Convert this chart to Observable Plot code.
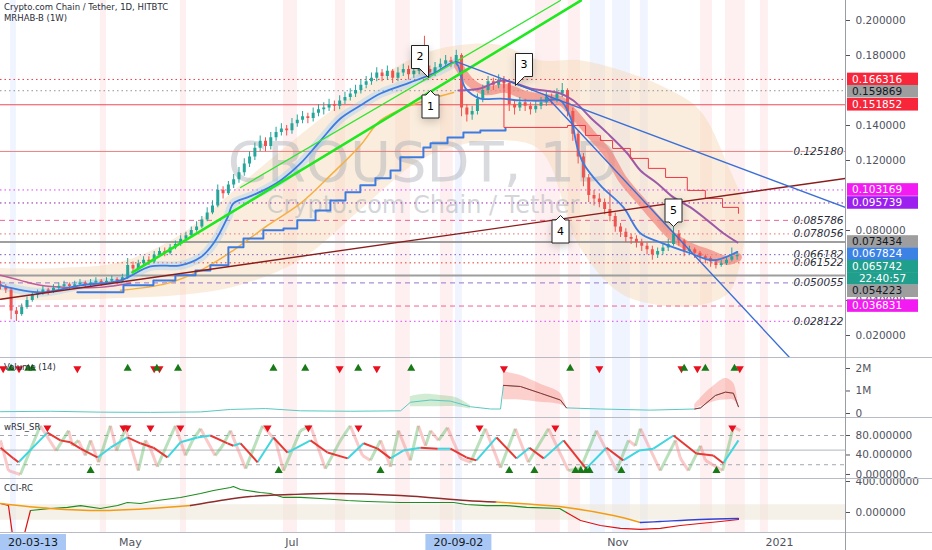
<!DOCTYPE html>
<html><head><meta charset="utf-8">
<script src="https://cdn.jsdelivr.net/npm/d3@7"></script>
<script src="https://cdn.jsdelivr.net/npm/@observablehq/plot@0.6"></script>
<style>
body{margin:0;background:#fff;}
#wrap{position:relative;width:932px;height:550px;overflow:hidden;background:#fff;font-family:"DejaVu Sans","Liberation Sans",sans-serif}
#wrap svg{position:absolute;left:0;overflow:visible}
.ttl{position:absolute;left:4px;font-size:8.5px;color:#2a2e39;white-space:nowrap}
.sep{position:absolute;left:0;width:932px;height:0;border-top:1.5px solid #b8bbc4}
</style></head><body><div id="wrap"></div>
<script>
// ---------------- DATA ----------------
const startDate = "2020-03-13";
const barStepDays = 2;
const firstOpen = 0.049;
const closes = [.048,.046,.034,.032,.036,.040,.043,.044,.046,.045, .047,.048,.049,.048,.049,.050,.049,.050,.051,.050, .051,.052,.051,.053,.060,.058,.061,.063,.062,.066, .068,.067,.070,.072,.075,.077,.080,.082,.086,.090, .094,.103,.101,.106,.109,.113,.118,.122,.127,.131, .128,.133,.136,.138,.137,.141,.143,.145,.144,.147, .149,.150,.152,.151,.154,.156,.158,.160,.163,.165, .167,.170,.168,.171,.167,.170,.172,.169,.171,.173, .172,.170,.173,.175,.177,.176,.180,.150,.146,.148, .155,.160,.165,.163,.166,.164,.152,.150,.153,.151, .149,.151,.153,.156,.155,.158,.160,.148,.135,.122, .110,.100,.098,.096,.092,.088,.082,.079,.076,.075, .073,.071,.069,.066,.068,.070,.072,.078,.074,.068, .069,.067,.065,.064,.062,.060,.061,.063,.065,.0657];
const highs = [.051,.049,.047,.036,.038,.042,.045,.046,.048,.047, .049,.050,.051,.050,.051,.052,.051,.052,.053,.052, .053,.054,.053,.055,.064,.062,.063,.065,.065,.068, .070,.070,.072,.074,.077,.079,.082,.085,.088,.093, .097,.106,.105,.108,.112,.116,.121,.125,.130,.134, .133,.136,.139,.141,.140,.144,.146,.148,.147,.150, .152,.153,.155,.154,.157,.159,.161,.163,.166,.168, .170,.173,.172,.174,.172,.173,.175,.174,.174,.176, .191,.174,.176,.178,.180,.179,.183,.181,.152,.151, .158,.163,.168,.167,.169,.168,.165,.154,.156,.155, .153,.154,.156,.159,.158,.161,.164,.161,.150,.137, .124,.112,.103,.101,.098,.103,.090,.084,.081,.078, .077,.075,.073,.071,.070,.072,.075,.082,.080,.075, .071,.070,.068,.066,.065,.063,.063,.065,.070,.068];
const lows = [.046,.044,.029,.028,.031,.035,.039,.041,.043,.043, .044,.046,.047,.046,.047,.048,.047,.048,.049,.048, .049,.050,.049,.050,.052,.056,.057,.060,.060,.061, .065,.065,.066,.069,.071,.074,.076,.079,.081,.085, .089,.093,.098,.100,.104,.107,.111,.116,.120,.125, .125,.126,.131,.134,.134,.135,.139,.141,.141,.142, .145,.146,.148,.148,.149,.152,.154,.156,.158,.161, .163,.165,.165,.166,.164,.165,.168,.166,.167,.169, .169,.167,.168,.171,.173,.173,.174,.145,.142,.143, .146,.153,.158,.160,.161,.161,.148,.146,.148,.148, .146,.147,.149,.151,.152,.153,.156,.145,.131,.118, .105,.096,.094,.093,.089,.085,.079,.076,.073,.072, .070,.068,.066,.063,.064,.066,.068,.071,.071,.065, .066,.064,.062,.061,.059,.058,.059,.060,.062,.063];

// indicator lines: [day since start, price]
const emaFast = [[0,.0487],[15.1,.0447],[30.2,.0487],[45.3,.0515],[56.6,.0595],[67.9,.0601],[75.5,.0647],[80.4,.0727],[85.7,.0875],[87.9,.0955],[93.2,.0989],[99.2,.1029],[105.7,.1086],[113.2,.1183],[120.8,.1314],[128.3,.144],[135.8,.1514],[143.4,.1583],[154.7,.1646],[164.2,.1703],[171.7,.176],[175.5,.1612],[181.1,.1554],[188.7,.1554],[196.2,.1543],[205.7,.1543],[211.3,.1543],[215.1,.1446],[217.7,.1275],[220,.1183],[226.4,.1058],[235.1,.0932],[241.5,.0784],[249,.0732],[260.4,.067],[269,.063],[278.1,.0678]];
const emaMid = [[172.8,.1743],[177.4,.1646],[183,.16],[190.6,.1612],[198.1,.1572],[205.7,.1554],[211.3,.1543],[216.2,.1469],[222.6,.1355],[229.1,.124],[235.1,.1086],[241.5,.0972],[247.9,.0858],[254,.0761],[260.4,.0704],[266.8,.0669],[274.3,.0629],[278.1,.0647]];
const maSlowEarly = [[0,.0544],[7.5,.0515],[15.1,.0487],[25.3,.0475],[37.7,.0475],[49.1,.0498]];
const maSlowLate = [[172.8,.1600],[181.1,.1612],[189.8,.1657],[200,.1612],[211.3,.1583],[216.2,.1543],[222.6,.1446],[229.1,.1355],[236.6,.124],[241.5,.1143],[247.9,.1069],[254,.0989],[260.4,.0932],[266.8,.0858],[272.8,.0784],[278.1,.0732]];
const maLong = [[45.3,.0458],[63,.0498],[75.5,.0572],[87.9,.0687],[100.8,.0829],[113.2,.0955],[124.5,.1115],[135.8,.1286],[143.4,.1429],[154.7,.1514],[171,.1589]];
const stepUp = [[29,.0447],[46.4,.0487],[57.7,.0515],[66,.0544],[73.6,.0572],[79.2,.0601],[86,.0704],[91.7,.0755],[99.2,.0801],[106.8,.0812],[112,.0858],[118.9,.0915],[124.5,.0972],[130.2,.1018],[135.8,.1058],[141.5,.1098],[147.2,.1143],[150.9,.1218],[159.6,.1275],[162.3,.1298],[168.7,.1332],[174.7,.136],[181.1,.1372],[190.6,.1383]];
const stepDown = [[189.8,.1669],[190,.1389],[214,.140],[220.8,.1343],[226.4,.1314],[231,.1269],[237.7,.1212],[244.5,.1155],[251,.1103],[259.2,.1029],[266,.0983],[272.5,.0932],[278.5,.0898]];
const cloud = [[0,.040,.0583],[22.6,.040,.0583],[45.3,.0411,.0617],[67.9,.0428,.0771],[90.6,.0486,.1057],[113.2,.0628,.1343],[135.8,.0914,.160],[158.5,.12,.18],[173.6,.1286,.1857],[188.7,.1314,.1857],[203.8,.1257,.177],[218.9,.07,.177],[234,.044,.1714],[249,.037,.1628],[264,.037,.1486],[275.5,.045,.1143],[281,.075,.095]];
// trend lines
const trendGreenThick = [[49.8,.0561],[219,.2114]];
const trendGreenThin = [[90.6,.1046],[211.3,.2114]];
const trendBlueA = [[171.7,.1766],[318.9,.0932]];
const trendBlueB = [[205.7,.1571],[298.1,.0069]];
const trendDarkRed = [[0,.0407],[318.9,.1098]];
// horizontal levels
const levelPrices = [0.166316,0.159869,0.151852,0.125180,0.103169,0.095739,0.085786,0.078056,0.073434,0.066182,0.061522,0.054223,0.050055,0.036831,0.028122];
const inChartLabels = [0.125180,0.085786,0.078056,0.066182,0.061522,0.050055,0.028122];
const axisLabelPrices = [0.166316,0.159869,0.151852,0.103169,0.095739,0.073434,0.067824,0.065742,0.054223,0.036831];
const countdown = "22:40:57";
const priceTicks = [0.02,0.04,0.08,0.12,0.14,0.18,0.20];
// callouts
const calloutText = ["1","2","3","4","5"];
const calloutDays = [162.3,161.5,194.3,211.3,254];
const calloutPrices = [0.160,0.1674,0.1629,0.0886,0.0824];
// background highlight columns [fromDay,toDay]
const redColumns = [[37.7,40],[67.9,70.2],[106.8,112.1],[126.4,130.2],[149.1,154.7],[166,170.9],[201.9,211.3],[214.3,218.9],[264.2,268.7],[273.6,281.1],[286.8,289.8]];
const blueColumns = [[3.8,6],[171.7,174.3],[222.6,228.3],[231,237.7],[241.5,244.5]];
// volume panel (millions)
const volLine = [[0,.08],[18.9,.1],[37.7,.06],[56.6,.05],[75.5,.07],[86.8,.18],[100,.22],[113.2,.12],[132,.1],[151,.12],[154.7,.5],[162.3,.6],[169.8,.55],[177.4,.3],[185,.2],[188.7,.2],[189.8,1.25],[196.2,1.2],[203.8,.9],[211.3,.6],[213.6,.25],[226.4,.2],[245.3,.15],[262,.2],[264.2,.25],[269.8,.8],[273.6,.95],[276.6,.9],[278.5,.3]];
const volGreenBand = [[154.7,.3,.75],[160,.3,.85],[166,.3,.8],[172,.3,.7],[177.4,.2,.35]];
const volRedBand1 = [[189.8,.6,1.85],[196,.6,1.7],[203.8,.5,1.3],[211.3,.4,.9],[213.6,.25,.25]];
const volRedBand2 = [[262,.2,.4],[266,.4,.9],[270,.55,1.3],[273.6,.6,1.55],[276.6,.6,1.35],[278.5,.3,.3]];
const volSellMarks = [1,7,29,58,60,128,142,190,226,257,263,279];
const volBuyMarks = [4,10.5,12,48,59,67,103,115,135,155,215,258,266,277];
// wRSI panel
const rsiSignal = [[0,55],[4.9,33],[6.8,25],[17.7,86],[22.6,70],[26.4,66],[30.2,53],[36.6,35],[41.5,55],[47.9,76],[52.8,64],[57.7,55],[63,35],[67.9,66],[74.3,76],[79.2,80],[85.7,64],[87.9,59],[90.6,64],[97,25],[103,76],[108.3,45],[117,70],[123.4,45],[131,33],[137,64],[142.3,53],[147.2,33],[152,49],[158.5,55],[165,53],[169.8,53],[175.8,35],[179.6,29],[187.2,76],[194.7,33],[199.6,55],[205,33],[212.5,70],[221,12],[228.7,55],[235,29],[241,49],[246.4,53],[254,80],[262.6,43],[269,39],[272.8,23],[278.5,70]];
const rsiFast = [[0,70],[3,8],[7.5,0],[15,100],[21,49],[25.7,90],[27.2,59],[29.4,70],[32,39],[34,70],[37,25],[41.5,100],[43.8,49],[47.2,94],[52,8],[54.7,70],[56.6,53],[59.2,16],[66,100],[69.8,39],[72.5,70],[75.5,94],[81,39],[83.8,59],[86.8,90],[92.5,12],[98.9,100],[103.8,70],[106.8,8],[113.2,90],[117,100],[122.6,12],[128.3,70],[132,100],[136.6,39],[139.6,29],[143.4,70],[147.2,16],[150.2,90],[154.7,29],[157.7,100],[160.4,59],[162.3,90],[165.3,70],[168.7,96],[173.6,33],[177.4,25],[183,94],[188.7,14],[194.3,94],[199.2,25],[206.8,94],[214.3,8],[218.9,12],[224.9,90],[232.5,8],[237,70],[239.6,59],[241.5,94],[249,8],[254.7,70],[256.6,33],[259.6,8],[264.2,59],[266,29],[272.5,8],[276.6,98],[279.2,90]];
const rsiSellMarks = [17.7,46.4,47.9,56.6,67.9,100.8,116.2,135.1,180.8,209.4,276.2];
const rsiBuyMarks = [34,105,143.4,192,201.5,217,219,221,222.3,234.3,270.2];
const rsiLevels = [80,50,20];
// CCI panel
const cciFast = [[11.3,26],[18.9,52],[25.3,65],[30.2,90],[37.7,52],[44.2,90],[47.9,129],[52.8,116],[59.2,155],[67.9,194],[75.5,245],[80.4,284],[86.8,323],[87.9,335],[90.6,297],[98.1,258],[101.9,245],[106.8,194],[113.2,194],[120.8,181],[131,155],[138.5,142],[151,129],[171,129],[175.8,103],[183.4,90],[191,90],[198.5,65],[211,52],[213.6,0]];
const cciFastNegStart = [[0,116],[3,90],[4.5,-280],[9,-280],[11.3,26]];
const cciFastNegEnd = [[213.6,0],[218.9,-103],[226.4,-168],[234,-206],[241.5,-219],[249,-206],[256.6,-168],[264,-142],[271.7,-116],[278.5,-90]];
const cciSlowA = [[0,116],[18.9,52],[37.7,26],[56.6,52],[71.7,90]];
const cciSlowB = [[71.7,90],[83,155],[94.3,206],[109.4,232],[124.5,245],[151,219],[175.8,155],[187,135]];
const cciSlowC = [[187,135],[196.2,116],[213.6,65],[231.3,-39],[241.5,-129]];
const cciSlowD = [[241.5,-129],[249,-116],[264,-90],[278.5,-77]];
// time axis
const timeTickDates = ["2020-05-01","2020-07-01","2020-11-01","2021-01-01"];
const timeTickLabels = ["May","Jul","Nov","2021"];
const markedDates = ["2020-03-13","2020-09-02"];
const markedLabels = ["20-03-13","20-09-02"];

// ---------------- BUILD ----------------
const FONT = '"DejaVu Sans","Liberation Sans",sans-serif';
const t0 = Date.parse(startDate);
const dayOf = s => (Date.parse(s) - t0) / 864e5;
const W = 932, MR = 87, XD = [0, 318.9];
const wrap = document.getElementById("wrap");
const X = d => d[0], Y = d => d[1];

const candles = closes.map((c, i) => ({d: i * barStepDays, o: i ? closes[i-1] : firstOpen, c, h: highs[i], l: lows[i]}));
const upC = candles.filter(k => k.c >= k.o), dnC = candles.filter(k => k.c < k.o);

function columns(yd) {
  return [
    Plot.rect(redColumns, {x1: X, x2: Y, y1: () => yd[0], y2: () => yd[1], fill: "#f23645", fillOpacity: 0.075}),
    Plot.rect(blueColumns, {x1: X, x2: Y, y1: () => yd[0], y2: () => yd[1], fill: "#2962ff", fillOpacity: 0.07})
  ];
}
function panel(top, h, yd, marks) {
  const p = Plot.plot({
    width: W, height: h, marginLeft: 0, marginRight: MR, marginTop: 0, marginBottom: 0,
    x: {domain: XD, axis: null}, y: {domain: yd, axis: null},
    style: {background: "transparent", overflow: "visible", fontFamily: FONT},
    marks
  });
  p.style.top = top + "px";
  wrap.appendChild(p);
  return p;
}
function rightAxis(ticks, fmt) {
  return Plot.axisY({ticks, anchor: "right", tickFormat: fmt, tickSize: 4, tickPadding: 6, fontSize: 10.5, color: "#50535e", label: null});
}

// ---- main panel ----
const yMain = [0.006857, 0.211429];
const lvlStyle = [
  {stroke:"#f23645", dash:"1.5,3"}, {stroke:"#8f929c", dash:"1.5,3"}, {stroke:"#f23645", dash:null, w:0.9},
  {stroke:"#e57373", dash:null, w:0.9}, {stroke:"#e040fb", dash:"1.5,3"}, {stroke:"#8e24aa", dash:"1.5,3"},
  {stroke:"#f06292", dash:"5,4"}, {stroke:"#e57373", dash:"1.5,3"}, {stroke:"#9e9e9e", dash:null, w:2},
  {stroke:"#7e57c2", dash:"1.5,3"}, {stroke:"#e53935", dash:"1.5,3"}, {stroke:"#9e9e9e", dash:null, w:2},
  {stroke:"#9575cd", dash:"5,4"}, {stroke:"#f06292", dash:"5,4"}, {stroke:"#e040fb", dash:"1.5,3"}
];
const calloutAnchors = ["top","bottom-right","bottom-left","top","bottom"];
const callouts = calloutText.map((t, i) => ({t, d: calloutDays[i], p: calloutPrices[i], a: calloutAnchors[i]}));

const main = panel(0, 358, yMain, [
  ...columns(yMain),
  Plot.areaY(cloud, {x: d => d[0], y1: d => d[1], y2: d => d[2], fill: "#f7d7b3", fillOpacity: 0.45, curve: "catmull-rom"}),
  Plot.text(["CROUSDT, 1D"], {text: d => d, frameAnchor: "middle", dy: -16, fontSize: 56, fill: "#a9adb6", fillOpacity: 0.45}),
  Plot.text(["Crypto.com Chain / Tether"], {text: d => d, frameAnchor: "middle", dy: 26, fontSize: 24, fill: "#a9adb6", fillOpacity: 0.5}),
  ...levelPrices.map((v, i) => Plot.ruleY([v], {stroke: lvlStyle[i].stroke, strokeDasharray: lvlStyle[i].dash || undefined, strokeWidth: lvlStyle[i].w || 1})),
  Plot.line(emaFast.filter(d => d[0] <= 172), {x: X, y: Y, stroke: "#90caf9", strokeWidth: 9, strokeOpacity: 0.35, curve: "catmull-rom"}),
  Plot.line(emaMid, {x: X, y: Y, stroke: "#f28b82", strokeWidth: 9, strokeOpacity: 0.75, curve: "catmull-rom"}),
  Plot.line(maSlowEarly, {x: X, y: Y, stroke: "#c05a9a", strokeWidth: 1.5, curve: "catmull-rom"}),
  Plot.ruleX(upC, {x: "d", y1: "l", y2: "h", stroke: "#26a69a", strokeWidth: 1}),
  Plot.ruleX(upC, {x: "d", y1: "o", y2: "c", stroke: "#26a69a", strokeWidth: 3}),
  Plot.ruleX(dnC, {x: "d", y1: "l", y2: "h", stroke: "#ef5350", strokeWidth: 1}),
  Plot.ruleX(dnC, {x: "d", y1: "o", y2: "c", stroke: "#ef5350", strokeWidth: 3}),
  Plot.line(maLong, {x: X, y: Y, stroke: "#f5b041", strokeWidth: 1.5, curve: "catmull-rom"}),
  Plot.line(maSlowLate, {x: X, y: Y, stroke: "#9c5aa8", strokeWidth: 2, curve: "catmull-rom"}),
  Plot.line(emaFast, {x: X, y: Y, stroke: "#3d7be0", strokeWidth: 1.8, curve: "catmull-rom"}),
  Plot.line(stepUp, {x: X, y: Y, stroke: "#3d7be0", strokeWidth: 2, curve: "step-after"}),
  Plot.line(stepDown, {x: X, y: Y, stroke: "#f23645", strokeWidth: 1, curve: "step-after"}),
  Plot.line(trendDarkRed, {x: X, y: Y, stroke: "#8b1c1c", strokeWidth: 1.4, clip: true}),
  Plot.line(trendGreenThin, {x: X, y: Y, stroke: "#2ee62e", strokeWidth: 1.3, clip: true}),
  Plot.line(trendGreenThick, {x: X, y: Y, stroke: "#1ee81e", strokeWidth: 2.6, clip: true}),
  Plot.line(trendBlueA, {x: X, y: Y, stroke: "#3b6fd6", strokeWidth: 1.4, clip: true}),
  Plot.line(trendBlueB, {x: X, y: Y, stroke: "#3b6fd6", strokeWidth: 1.4, clip: true}),
  Plot.text(inChartLabels, {y: d => d, text: d => d.toFixed(6), frameAnchor: "right", dx: -2, textAnchor: "end", fontSize: 10.5, fontStyle: "italic", fill: "#2a2e39", stroke: "white", strokeWidth: 2}),
  ...["top","bottom-right","bottom-left","bottom"].map(a => Plot.tip(callouts.filter(c => c.a === a), {x: "d", y: "p", title: "t", anchor: a, fill: "white", stroke: "#222", fontSize: 11, textPadding: 5, pointerSize: 9})),
  rightAxis(priceTicks, d3.format(".6f"))
]);

// price labels in right margin
(function(){
  const sy = main.scale("y");
  const st = {
    0.166316:{f:"#f7263a",t:"#fff"}, 0.159869:{f:"#9e9e9e",t:"#131722"}, 0.151852:{f:"#f7263a",t:"#fff"},
    0.103169:{f:"#f21bf2",t:"#fff"}, 0.095739:{f:"#9c1ff0",t:"#fff"}, 0.073434:{f:"#9e9e9e",t:"#131722"},
    0.067824:{f:"#3b82e4",t:"#fff"}, 0.065742:{f:"#1f9f8c",t:"#fff"}, 0.054223:{f:"#9e9e9e",t:"#131722"},
    0.036831:{f:"#f21bf2",t:"#fff"}
  };
  let items = axisLabelPrices.map(v => ({text: v.toFixed(6), y: sy.apply(v), ...st[v]}));
  items.push({text: countdown, y: sy.apply(0.065742) + 0.01, f: "#1f9f8c", t: "#fff", center: true});
  items.sort((a, b) => a.y - b.y);
  for (let i = 1; i < items.length; i++) if (items[i].y < items[i-1].y + 12.3) items[i].y = items[i-1].y + 12.3;
  const g = d3.select(main).append("g").attr("font-family", FONT).attr("font-size", 10.5).attr("text-anchor", "start");
  for (const it of items) {
    g.append("rect").attr("x", 847).attr("y", it.y - 6.3).attr("width", 71).attr("height", 12.6).attr("fill", it.f);
    g.append("text").attr("x", it.center ? 882.5 : 852).attr("text-anchor", it.center ? "middle" : "start")
      .attr("y", it.y).attr("dy", "0.35em").attr("fill", it.t).text(it.text);
  }
})();

// ---- volume panel ----
const yVol = [-0.222, 2.444];
const volRedLine = volLine.filter(d => (d[0] >= 189.8 && d[0] <= 213.6) || (d[0] >= 262));
panel(358, 60, yVol, [
  ...columns(yVol),
  Plot.areaY(volGreenBand, {x: d => d[0], y1: d => d[1], y2: d => d[2], fill: "#4caf50", fillOpacity: 0.25, curve: "catmull-rom"}),
  Plot.areaY(volRedBand1, {x: d => d[0], y1: d => d[1], y2: d => d[2], fill: "#f44336", fillOpacity: 0.25, curve: "catmull-rom"}),
  Plot.areaY(volRedBand2, {x: d => d[0], y1: d => d[1], y2: d => d[2], fill: "#f44336", fillOpacity: 0.25, curve: "catmull-rom"}),
  Plot.line(volLine, {x: X, y: Y, stroke: "#5bc8c0", strokeWidth: 1}),
  Plot.line(volRedLine.filter(d => d[0] < 240), {x: X, y: Y, stroke: "#a52a2a", strokeWidth: 1}),
  Plot.line(volRedLine.filter(d => d[0] > 240), {x: X, y: Y, stroke: "#a52a2a", strokeWidth: 1}),
  Plot.dot(volSellMarks, {x: d => d, y: () => 2.0, symbol: "triangle", rotate: 180, r: 3, fill: "#e8101e", stroke: "none"}),
  Plot.dot(volBuyMarks, {x: d => d, y: () => 2.0, symbol: "triangle", r: 3, fill: "#177a17", stroke: "none"}),
  rightAxis([0, 1, 2], d => d === 0 ? "0" : d + "M")
]);

// ---- wRSI panel ----
const yRsi = [-10.3, 114.9];
const segs = arr => d3.pairs(arr).map(([a, b]) => ({x1: a[0], y1: a[1], x2: b[0], y2: b[1], up: b[1] >= a[1]}));
const sSeg = segs(rsiSignal), fSeg = segs(rsiFast);
panel(418, 61, yRsi, [
  ...columns(yRsi),
  Plot.ruleY([rsiLevels[0], rsiLevels[2]], {stroke: "#a3a6ae", strokeDasharray: "4,4"}),
  Plot.ruleY([rsiLevels[1]], {stroke: "#b2b5be"}),
  Plot.link(fSeg.filter(s => s.up), {x1: "x1", y1: "y1", x2: "x2", y2: "y2", stroke: "#66bb6a", strokeOpacity: 0.45, strokeWidth: 3}),
  Plot.link(fSeg.filter(s => !s.up), {x1: "x1", y1: "y1", x2: "x2", y2: "y2", stroke: "#f48a8a", strokeOpacity: 0.45, strokeWidth: 3}),
  Plot.link(sSeg.filter(s => s.up), {x1: "x1", y1: "y1", x2: "x2", y2: "y2", stroke: "#3fd6e0", strokeWidth: 2}),
  Plot.link(sSeg.filter(s => !s.up), {x1: "x1", y1: "y1", x2: "x2", y2: "y2", stroke: "#e53935", strokeWidth: 2}),
  Plot.dot(rsiSellMarks, {x: d => d, y: () => 96, symbol: "triangle", rotate: 180, r: 3, fill: "#e8101e", stroke: "none"}),
  Plot.dot(rsiBuyMarks, {x: d => d, y: () => 8, symbol: "triangle", r: 3, fill: "#177a17", stroke: "none"}),
  rightAxis([0, 40, 80], d3.format(".6f"))
]);

// ---- CCI panel ----
const yCci = [-271, 426];
panel(479, 54, yCci, [
  ...columns(yCci),
  Plot.rect([[-100, 100]], {x1: () => XD[0], x2: () => XD[1], y1: X, y2: Y, fill: "#efe6d8", fillOpacity: 0.6}),
  Plot.line(cciFastNegStart, {x: X, y: Y, stroke: "#e01010", strokeWidth: 1.2, clip: true}),
  Plot.line(cciFast, {x: X, y: Y, stroke: "#1e8c1e", strokeWidth: 1.2}),
  Plot.line(cciFastNegEnd, {x: X, y: Y, stroke: "#e01010", strokeWidth: 1.2, clip: true}),
  Plot.line(cciSlowA, {x: X, y: Y, stroke: "#f39c12", strokeWidth: 1.4, curve: "catmull-rom"}),
  Plot.line(cciSlowB, {x: X, y: Y, stroke: "#8e2b2b", strokeWidth: 1.4, curve: "catmull-rom"}),
  Plot.line(cciSlowC, {x: X, y: Y, stroke: "#f39c12", strokeWidth: 1.4, curve: "catmull-rom"}),
  Plot.line(cciSlowD, {x: X, y: Y, stroke: "#3340d6", strokeWidth: 1.4, curve: "catmull-rom"}),
  rightAxis([0, 400], d3.format(".6f"))
]);

// ---- time axis ----
const tAxis = panel(533, 17, [0, 1], [
  Plot.text(timeTickLabels, {x: (d, i) => dayOf(timeTickDates[i]), text: d => d, frameAnchor: "middle", fontSize: 11, fill: "#50535e"})
]);
(function(){
  const sx = tAxis.scale("x");
  const g = d3.select(tAxis).append("g").attr("font-family", FONT).attr("font-size", 11);
  markedDates.forEach((s, i) => {
    const cx = Math.max(33, sx.apply(dayOf(s)));
    g.append("rect").attr("x", cx - 33).attr("y", 1).attr("width", 66).attr("height", 16).attr("fill", "#a9c7f4");
    g.append("text").attr("x", cx).attr("y", 9).attr("dy", "0.35em").attr("text-anchor", "middle").attr("fill", "#131722").text(markedLabels[i]);
  });
})();

// separators, axis line, titles
[358, 418, 479, 533].forEach(y => { const d = document.createElement("div"); d.className = "sep"; d.style.top = (y - 1) + "px"; wrap.appendChild(d); });
const vline = document.createElement("div");
vline.style.cssText = "position:absolute;left:845px;top:0;width:0;height:550px;border-left:1.5px solid #9a9da6";
wrap.appendChild(vline);
[["Crypto.com Chain / Tether, 1D, HITBTC", 2], ["MRHAB-B (1W)", 13], ["Volume (14)", 362], ["wRSI_SR", 422], ["CCI-RC", 483]].forEach(([t, y]) => {
  const d = document.createElement("div"); d.className = "ttl"; d.style.top = y + "px"; d.textContent = t; wrap.appendChild(d);
});
</script></body></html>
